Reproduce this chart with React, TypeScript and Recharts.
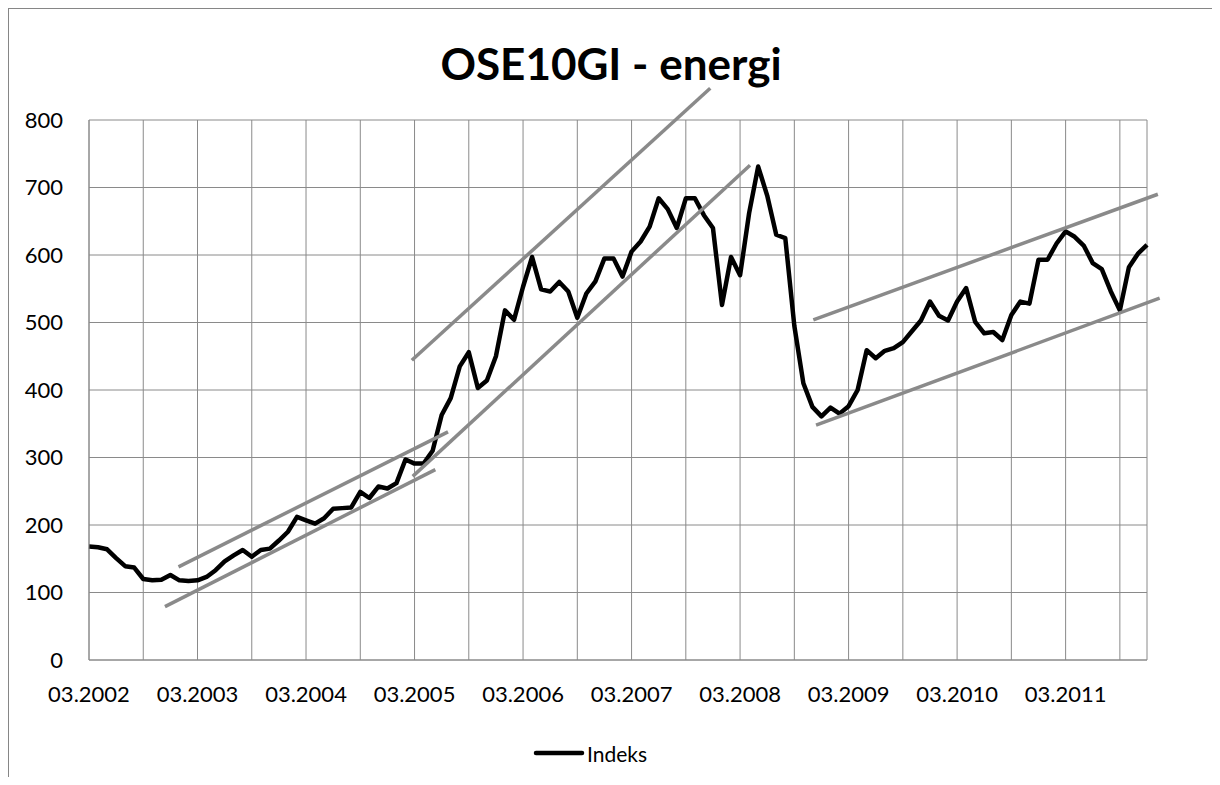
import React from 'react';
import { LineChart, Line, XAxis, YAxis, CartesianGrid, Legend, ReferenceLine } from 'recharts';

// Monthly index values, 03.2002 .. 12.2011 (month index 0 = 03.2002)
const indexValues: number[] = [
  168, 167, 164, 151, 139, 137, 120, 118, 119, 126,
  118, 117, 118, 123, 133, 146, 155, 163, 153, 163,
  165, 177, 190, 212, 207, 202, 210, 224, 225, 226,
  249, 240, 257, 254, 262, 297, 291, 291, 310, 363,
  388, 435, 456, 403, 414, 450, 518, 504, 553, 597,
  549, 546, 560, 546, 507, 543, 561, 595, 595, 568,
  605, 620, 642, 684, 668, 640, 684, 684, 659, 640,
  526, 597, 570, 662, 731, 688, 630, 625, 495, 410,
  375, 361, 374, 365, 376, 400, 459, 447, 458, 462,
  471, 487, 503, 531, 510, 503, 531, 551, 501, 484,
  486, 474, 511, 531, 528, 593, 593, 617, 635, 627,
  614, 588, 579, 546, 518, 582, 602, 615,
];

const seriesName = 'Indeks';
const chartTitle = 'OSE10GI - energi';

// x tick positions (month index) and their labels
const xGridMonths: number[] = [0, 6, 12, 18, 24, 30, 36, 42, 48, 54, 60, 66, 72, 78, 84, 90, 96, 102, 108, 114];
const xTickLabels: string[] = [
  '03.2002', '03.2003', '03.2004', '03.2005', '03.2006',
  '03.2007', '03.2008', '03.2009', '03.2010', '03.2011',
];
const yTicks: number[] = [0, 100, 200, 300, 400, 500, 600, 700, 800];

// hand drawn trend lines: [month, value] endpoints
const trendLines = [
  { x1: 8.4, y1: 79, x2: 38.3, y2: 282 },
  { x1: 9.9, y1: 138, x2: 39.7, y2: 338 },
  { x1: 35.8, y1: 272, x2: 73.1, y2: 733 },
  { x1: 35.7, y1: 444, x2: 68.7, y2: 847 },
  { x1: 80.1, y1: 504, x2: 118.2, y2: 690 },
  { x1: 80.4, y1: 348, x2: 118.4, y2: 536 },
];

const data = indexValues.map((v, i) => ({ m: i, [seriesName]: v }));

const FONT = 'Lato, "Open Sans", sans-serif';
const GRID = '#8a8a8a';

const renderLegend = (props: any) => {
  const { payload } = props;
  return (
    <div style={{ display: 'flex', alignItems: 'center', height: 26, fontFamily: FONT, fontSize: 21, color: '#000' }}>
      {(payload || []).map((p: any) => (
        <div key={p.value} style={{ display: 'flex', alignItems: 'center' }}>
          <svg width={52} height={12}>
            <line x1={3} y1={6} x2={49} y2={6} stroke={p.color} strokeWidth={4.5} strokeLinecap="round" />
          </svg>
          <span style={{ marginLeft: 2 }}>{p.value}</span>
        </div>
      ))}
    </div>
  );
};

export default function App() {
  const labelFor = (v: number) => {
    if (v % 12 !== 0) return '';
    return xTickLabels[v / 12] ?? '';
  };
  return (
    <div style={{ position: 'relative', width: 1204, height: 769 }}>
      <div
        style={{
          position: 'absolute', left: 0, top: 0, width: 1204, height: 769,
          borderTop: '1px solid #868686', borderLeft: '1px solid #868686', boxSizing: 'border-box',
          pointerEvents: 'none',
        }}
      />
      <div
        style={{
          position: 'absolute', left: 0, top: 33, width: 1206, textAlign: 'center',
          fontFamily: FONT, fontWeight: 700, fontSize: 44, lineHeight: '44px', color: '#000',
        }}
      >
        {chartTitle}
      </div>
      <LineChart
        width={1204}
        height={769}
        data={data}
        margin={{ top: 112, right: 65, bottom: 61, left: 51 }}
      >
        <CartesianGrid stroke={GRID} strokeWidth={1} />
        <XAxis
          dataKey="m"
          type="number"
          domain={[0, 117]}
          ticks={xGridMonths}
          interval={0}
          tickFormatter={labelFor}
          height={30}
          tickLine={false}
          tickSize={0}
          tickMargin={26}
          axisLine={{ stroke: GRID, strokeWidth: 1 }}
          tick={{ fill: '#000', fontSize: 22, fontFamily: FONT }}
        />
        <YAxis
          type="number"
          domain={[0, 800]}
          ticks={yTicks}
          interval={0}
          width={30}
          tickLine={false}
          tickSize={0}
          tickMargin={26}
          axisLine={{ stroke: GRID, strokeWidth: 1 }}
          tick={{ fill: '#000', fontSize: 22, fontFamily: FONT }}
        />
        <Legend
          verticalAlign="bottom"
          content={renderLegend}
          wrapperStyle={{ left: 525, top: 732, bottom: 'auto', width: 'auto' }}
        />
        <Line
          type="linear"
          dataKey={seriesName}
          stroke="#000"
          strokeWidth={4.5}
          strokeLinejoin="round"
          dot={false}
          activeDot={false}
          isAnimationActive={false}
        />
        {trendLines.map((t, k) => (
          <ReferenceLine
            key={k}
            segment={[{ x: t.x1, y: t.y1 }, { x: t.x2, y: t.y2 }]}
            stroke="#8a8a8a"
            strokeWidth={3.5}
            ifOverflow="visible"
          />
        ))}
      </LineChart>
    </div>
  );
}
